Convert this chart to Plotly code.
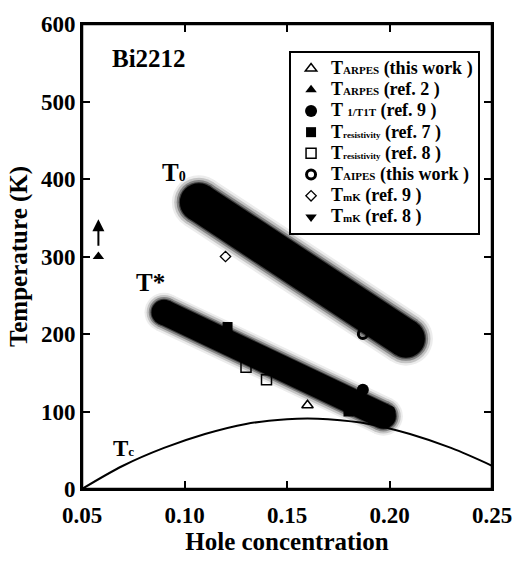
import plotly.graph_objects as go

# ---------------- data ----------------
# Tc dome
tc_p = [0.05, 0.07, 0.09, 0.11, 0.13, 0.15, 0.16, 0.17, 0.19, 0.21, 0.23, 0.25]
tc_T = [0, 30, 53, 71, 84, 90, 91, 90, 84, 71, 53, 30]

# broad crossover bands (centre lines)
t0_p = [0.107, 0.208]
t0_T = [370, 194]
ts_p = [0.090, 0.197]
ts_T = [228, 94]

# markers
arpes_this_p = [0.160]; arpes_this_T = [108]
arpes_ref2_p = [0.058]; arpes_ref2_T = [300]
t1t_p = [0.187, 0.200]; t1t_T = [128, 100]
res7_p = [0.121, 0.180, 0.190]; res7_T = [209, 100, 97]
res8_p = [0.130, 0.140]; res8_T = [157, 141]
aipes_p = [0.187]; aipes_T = [200]
tk9_p = [0.120]; tk9_T = [300]
tk8_p = [0.120]; tk8_T = [335]

S = "<span style='font-size:18px'>"
s = "<span style='font-size:11px'>"
xs = "<span style='font-size:9px'>"
E = "</span>"
legend_names = [
    f"<b>{S}T{E}{s}ARPES{E}{S} (this work ){E}</b>",
    f"<b>{S}T{E}{s}ARPES{E}{S} (ref. 2 ){E}</b>",
    f"<b>{S}T {E}{s}1/T1T{E}{S} (ref. 9 ){E}</b>",
    f"<b>{S}T{E}{xs}resistivity{E}{S} (ref. 7 ){E}</b>",
    f"<b>{S}T{E}{xs}resistivity{E}{S} (ref. 8 ){E}</b>",
    f"<b>{S}T{E}{s}AIPES{E}{S} (this work ){E}</b>",
    f"<b>{S}T{E}{s}mK{E}{S} (ref. 9 ){E}</b>",
    f"<b>{S}T{E}{s}mK{E}{S} (ref. 8 ){E}</b>",
]

x_ticks = [0.05, 0.10, 0.15, 0.20, 0.25]
y_ticks = [0, 100, 200, 300, 400, 500, 600]

FONT = "Liberation Serif"

fig = go.Figure()

# fuzzy bands: layered strokes with round ends (markers at the ends)
def band(px, py, core, fuzz):
    layers = [(core + fuzz, "#ececec"),
              (core + fuzz * 0.7, "#c4c4c4"),
              (core + fuzz * 0.4, "#858585"),
              (core + fuzz * 0.15, "#404040"),
              (core, "#000000")]
    for w, c in layers:
        fig.add_trace(go.Scatter(
            x=px, y=py, mode="lines+markers",
            line=dict(color=c, width=w),
            marker=dict(color=c, size=w, line=dict(width=0)),
            showlegend=False, hoverinfo="skip"))

band(t0_p, t0_T, 38, 16)
band(ts_p, ts_T, 25, 14)

# Tc curve
fig.add_trace(go.Scatter(x=tc_p, y=tc_T, mode="lines",
                         line=dict(color="black", width=2, shape="spline"),
                         showlegend=False, hoverinfo="skip"))

def mk(px, py, name, symbol, size, lw=1.5, color="black"):
    fig.add_trace(go.Scatter(
        x=px, y=py, mode="markers", name=name,
        marker=dict(symbol=symbol, size=size, color=color,
                    line=dict(color="black", width=lw))))

mk(arpes_this_p, arpes_this_T, legend_names[0], "triangle-up-open", 10, 1.5)
mk(arpes_ref2_p, arpes_ref2_T, legend_names[1], "triangle-up", 10, 0)
mk(t1t_p, t1t_T, legend_names[2], "circle", 12, 0)
mk(res7_p, res7_T, legend_names[3], "square", 10, 0)
mk(res8_p, res8_T, legend_names[4], "square-open", 10, 1.5)
mk(aipes_p, aipes_T, legend_names[5], "circle-open", 9, 3)
mk(tk9_p, tk9_T, legend_names[6], "diamond-open", 8, 1.3)
mk(tk8_p, tk8_T, legend_names[7], "triangle-down", 10, 0)

ann = [
    (0.0826, 555, "<b>Bi2212</b>", 25),
    (0.095, 408, "<b>T<span style='font-size:14px'>0</span></b>", 25),
    (0.0836, 267, "<b>T*</b>", 25),
    (0.070, 52, "<b>T<span style='font-size:13px'>c</span></b>", 23),
]
for x, y, t, fs in ann:
    fig.add_annotation(x=x, y=y, text=t, showarrow=False,
                       font=dict(family=FONT, color="black", size=fs))

# arrow on ref.2 point
fig.add_annotation(x=arpes_ref2_p[0], y=348, ax=arpes_ref2_p[0], ay=312,
                   xref="x", yref="y", axref="x", ayref="y", text="",
                   showarrow=True, arrowhead=2, arrowsize=1.2, arrowwidth=2, arrowcolor="black")

# plot frame
fig.add_shape(type="rect", xref="paper", yref="paper", x0=0, y0=0, x1=1, y1=1,
              line=dict(color="black", width=2.5), layer="above")

axis_common = dict(showgrid=False, zeroline=False, showline=True, linecolor="black", linewidth=2,
                   ticks="inside", ticklen=8, tickwidth=2, tickcolor="black", mirror="allticks",
                   ticklabeloverflow="allow",
                   tickfont=dict(family=FONT, size=23, color="black"))

fig.update_layout(
    width=524, height=561,
    margin=dict(l=82, r=19, t=15, b=64),
    paper_bgcolor="white", plot_bgcolor="white",
    font=dict(family=FONT, color="black"),
    showlegend=True,
    legend=dict(x=0.505, y=0.942, xanchor="left", yanchor="top",
                bordercolor="black", borderwidth=2, bgcolor="white",
                font=dict(family=FONT, size=14, color="black"),
                itemsizing="trace", tracegroupgap=0),
    xaxis=dict(range=[0.05, 0.25], tickvals=x_ticks,
               ticktext=[f"<b>{v:.2f}</b>" for v in x_ticks],
               ticklabelstandoff=4,
               title=dict(text="<b>Hole concentration</b>",
                          font=dict(family=FONT, size=25), standoff=4),
               **axis_common),
    yaxis=dict(range=[0, 600], tickvals=y_ticks,
               ticktext=[f"<b>{v}</b>" for v in y_ticks],
               title=dict(text="<b>Temperature (K)</b>",
                          font=dict(family=FONT, size=25), standoff=6),
               **axis_common),
)

fig.write_html("out.html", config={"displayModeBar": False},
               post_script="document.body.style.margin='0';document.body.style.overflow='hidden';")
